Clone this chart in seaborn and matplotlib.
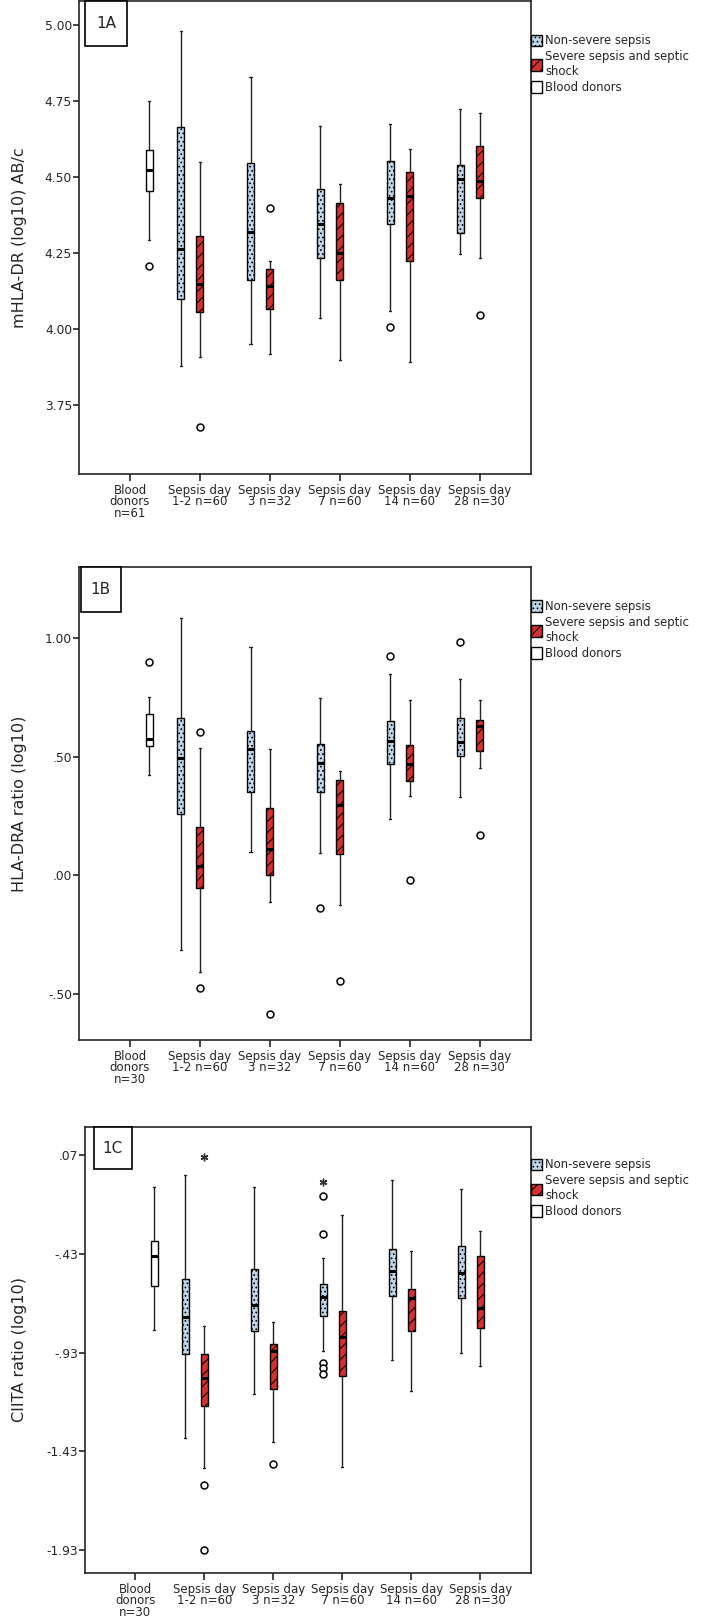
import numpy as np
import matplotlib
matplotlib.use("Agg")
import matplotlib.pyplot as plt
from matplotlib.patches import Patch, Rectangle
import seaborn as sns

# x categories
DAY_LABELS = ["Sepsis day\n1-2 n=60", "Sepsis day\n3 n=32", "Sepsis day\n7 n=60",
              "Sepsis day\n14 n=60", "Sepsis day\n28 n=30"]
GROUPS = ["Non-severe sepsis", "Severe sepsis and septic\nshock", "Blood donors"]

# box stats per day: (whisker low, q1, median, q3, whisker high)
# --- 1A mHLA-DR
A_DONOR = (4.293, 4.453, 4.523, 4.590, 4.751)
A_DONOR_OUT = [4.207]
A_NS = [(3.877, 4.099, 4.263, 4.664, 4.979), (3.951, 4.160, 4.319, 4.545, 4.830),
        (4.035, 4.234, 4.345, 4.460, 4.669), (4.059, 4.347, 4.432, 4.552, 4.674),
        (4.246, 4.317, 4.493, 4.538, 4.725)]
A_NS_OUT = [[], [], [], [4.007], []]
A_SEV = [(3.908, 4.056, 4.147, 4.305, 4.550), (3.917, 4.066, 4.143, 4.196, 4.223),
         (3.899, 4.160, 4.251, 4.414, 4.478), (3.893, 4.224, 4.437, 4.518, 4.592),
         (4.235, 4.431, 4.486, 4.601, 4.710)]
A_SEV_OUT = [[3.677], [4.399], [], [], [4.047]]

# --- 1B HLA-DRA
B_DONOR = (0.421, 0.543, 0.576, 0.678, 0.752)
B_DONOR_OUT = [0.898]
B_NS = [(-0.314, 0.257, 0.493, 0.663, 1.084), (0.098, 0.349, 0.531, 0.608, 0.964),
        (0.093, 0.349, 0.473, 0.551, 0.746), (0.238, 0.469, 0.564, 0.649, 0.848),
        (0.328, 0.502, 0.560, 0.662, 0.829)]
B_NS_OUT = [[], [], [-0.138], [0.923], [0.983]]
B_SEV = [(-0.408, -0.054, 0.040, 0.201, 0.537), (-0.112, 0.000, 0.111, 0.281, 0.534),
         (-0.127, 0.087, 0.296, 0.403, 0.441), (0.334, 0.396, 0.467, 0.547, 0.737),
         (0.451, 0.525, 0.628, 0.656, 0.740)]
B_SEV_OUT = [[0.604, -0.478], [-0.587], [-0.446], [-0.022], [0.171]]

# --- 1C CIITA
C_DONOR = (-0.816, -0.595, -0.439, -0.364, -0.093)
C_DONOR_OUT = []
C_NS = [(-1.360, -0.936, -0.747, -0.556, -0.031), (-1.138, -0.821, -0.691, -0.507, -0.092),
        (-0.920, -0.745, -0.646, -0.583, -0.453), (-0.969, -0.644, -0.516, -0.406, -0.057),
        (-0.933, -0.655, -0.526, -0.389, -0.102)]
C_NS_OUT = [[], [], [-0.139, -0.330, -0.981, -1.007, -1.037], [], []]
C_NS_EXTREME = [[], [], [-0.064], [], []]
C_SEV = [(-1.511, -1.198, -1.059, -0.938, -0.795), (-1.383, -1.112, -0.920, -0.886, -0.774),
         (-1.508, -1.049, -0.851, -0.717, -0.234), (-1.125, -0.821, -0.653, -0.608, -0.417),
         (-0.999, -0.804, -0.703, -0.443, -0.314)]
C_SEV_OUT = [[-1.600, -1.928], [-1.494], [], [], []]
C_SEV_EXTREME = [[0.061], [], [], [], []]

NS_COLOR = "#bfd6e8"
SEV_COLOR = "#d3302f"
OFF = 0.277

sns.set_style("ticks")
plt.rcParams["font.family"] = ["DejaVu Sans"]
plt.rcParams["hatch.linewidth"] = 0.7


def to_stats(rows, outs):
    return [dict(whislo=r[0], q1=r[1], med=r[2], q3=r[3], whishi=r[4], fliers=o)
            for r, o in zip(rows, outs)]


def draw_boxes(ax, rows, outs, pos, color, hatch):
    b = ax.bxp(to_stats(rows, outs), positions=pos, widths=0.1, patch_artist=True,
               manage_ticks=False, capwidths=0.03,
               boxprops=dict(edgecolor="black", linewidth=1.0),
               medianprops=dict(color="black", linewidth=2.2, solid_capstyle="butt"),
               whiskerprops=dict(color="#222222", linewidth=1.0),
               capprops=dict(color="#222222", linewidth=1.0),
               flierprops=dict(marker="o", markerfacecolor="white", markeredgecolor="black",
                               markersize=5, markeredgewidth=1.1))
    for box in b["boxes"]:
        box.set_facecolor(color)
        if hatch:
            box.set_hatch(hatch)


def draw_panel(ax, donor, donor_out, ns, ns_out, sev, sev_out, ylim, ticks, ticklabels,
               ylabel, tag, donor_n, ns_ext=None, sev_ext=None, tag_x=(0.013, 0.106)):
    days = np.arange(1, 6)
    draw_boxes(ax, [donor], [donor_out], [0 + OFF], "white", None)
    draw_boxes(ax, ns, ns_out, days - OFF, NS_COLOR, "....")
    draw_boxes(ax, sev, sev_out, days, SEV_COLOR, "///")
    for ext, pos in ((ns_ext, days - OFF), (sev_ext, days)):
        if ext is None:
            continue
        for vals, p in zip(ext, pos):
            if vals:
                ax.plot([p] * len(vals), vals, linestyle="none", marker=(6, 2, 0),
                        color="#333333", markersize=5.5, markeredgewidth=1.0)

    ax.set_xlim(-0.73, 5.735)
    ax.set_ylim(*ylim)
    ax.set_xticks(np.arange(6))
    ax.set_xticklabels([f"Blood\ndonors\nn={donor_n}"] + DAY_LABELS, fontsize=8.5,
                       linespacing=0.85)
    ax.set_yticks(ticks)
    ax.set_yticklabels(ticklabels, fontsize=8.8)
    ax.tick_params(axis="x", length=5, width=1.2, pad=2)
    ax.tick_params(axis="y", length=4, width=1.2, pad=1)
    for s in ax.spines.values():
        s.set_linewidth(1.2)
    ax.set_ylabel(ylabel, fontsize=11.5)
    ax.yaxis.set_label_coords(-0.115, 0.5)

    # panel tag box
    ax.add_patch(Rectangle((tag_x[0], 0.905), tag_x[1] - tag_x[0], 0.095,
                           transform=ax.transAxes, facecolor="white", edgecolor="black",
                           linewidth=1.2, clip_on=False, zorder=5))
    ax.text((tag_x[0] + tag_x[1]) / 2, 0.952, tag, transform=ax.transAxes, ha="center",
            va="center", fontsize=11, zorder=6)

    handles = [Patch(facecolor=NS_COLOR, edgecolor="black", hatch="...."),
               Patch(facecolor=SEV_COLOR, edgecolor="black", hatch="///"),
               Patch(facecolor="white", edgecolor="black")]
    ax.legend(handles, GROUPS, loc="upper left", bbox_to_anchor=(1.0, 0.93), frameon=False,
              fontsize=8.4, handlelength=0.95, handleheight=1.1, handletextpad=0.25,
              labelspacing=0.25, borderaxespad=0, borderpad=0)


fig = plt.figure(figsize=(7.08, 16.18), dpi=100)
axA = fig.add_axes([0.1116, 0.7070, 0.6384, 0.2924])
axB = fig.add_axes([0.1116, 0.3572, 0.6384, 0.2924])
axC = fig.add_axes([0.1200, 0.0278, 0.6300, 0.2757])

draw_panel(axA, A_DONOR, A_DONOR_OUT, A_NS, A_NS_OUT, A_SEV, A_SEV_OUT, (3.523, 5.079),
           [3.75, 4.00, 4.25, 4.50, 4.75, 5.00], ["3.75", "4.00", "4.25", "4.50", "4.75", "5.00"],
           "mHLA-DR (log10) AB/c", "1A", 61)
draw_panel(axB, B_DONOR, B_DONOR_OUT, B_NS, B_NS_OUT, B_SEV, B_SEV_OUT, (-0.696, 1.30),
           [-0.5, 0.0, 0.5, 1.0], ["-.50", ".00", ".50", "1.00"],
           "HLA-DRA ratio (log10)", "1B", 30, tag_x=(0.004, 0.092))
draw_panel(axC, C_DONOR, C_DONOR_OUT, C_NS, C_NS_OUT, C_SEV, C_SEV_OUT, (-2.045, 0.2125),
           [-1.93, -1.43, -0.93, -0.43, 0.07], ["-1.93", "-1.43", "-.93", "-.43", ".07"],
           "CIITA ratio (log10)", "1C", 30, ns_ext=C_NS_EXTREME, sev_ext=C_SEV_EXTREME,
           tag_x=(0.020, 0.105))
axC.yaxis.set_label_coords(-0.13, 0.5)

fig.savefig("out.png", dpi=100, facecolor="white")
